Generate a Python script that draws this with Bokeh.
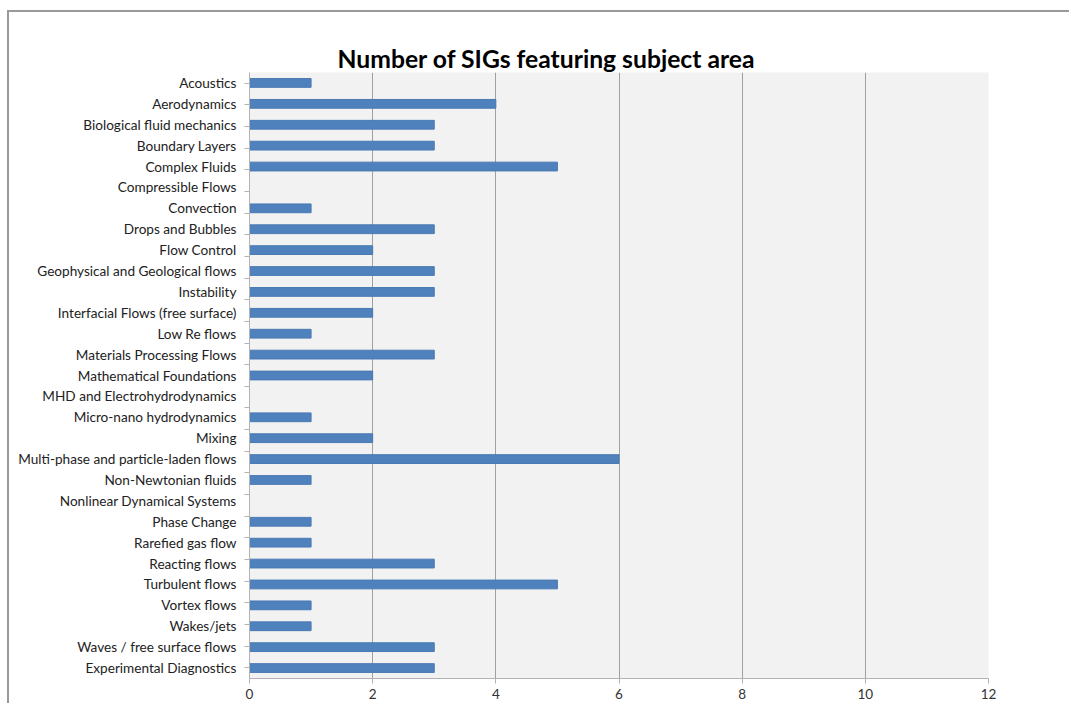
from bokeh.plotting import figure
from bokeh.models import (FactorRange, Range1d, CategoricalAxis, LinearAxis,
                          FixedTicker, Title, CustomLabelingPolicy)
from bokeh.embed import file_html
from bokeh.resources import INLINE

categories = [
    "Acoustics", "Aerodynamics", "Biological fluid mechanics", "Boundary Layers",
    "Complex Fluids", "Compressible Flows", "Convection", "Drops and Bubbles",
    "Flow Control", "Geophysical and Geological flows", "Instability",
    "Interfacial Flows (free surface)", "Low Re flows", "Materials Processing Flows",
    "Mathematical Foundations", "MHD and Electrohydrodynamics",
    "Micro-nano hydrodynamics", "Mixing", "Multi-phase and particle-laden flows",
    "Non-Newtonian fluids", "Nonlinear Dynamical Systems", "Phase Change",
    "Rarefied gas flow", "Reacting flows", "Turbulent flows", "Vortex flows",
    "Wakes/jets", "Waves / free surface flows", "Experimental Diagnostics",
]
counts = [1, 4, 3, 3, 5, 0, 1, 3, 2, 3, 3, 2, 1, 3, 2, 0, 1, 2, 6, 1, 0, 1, 1, 3, 5, 1, 1, 3, 3]
x_ticks = [0, 2, 4, 6, 8, 10, 12]
title_text = "Number of SIGs featuring subject area"

FONT = "Lato"
n = len(categories)

p = figure(
    width=1062, height=693,
    y_range=FactorRange(factors=categories[::-1]),
    x_range=Range1d(0, 12),
    output_backend="svg", toolbar_location=None,
    y_axis_location=None,
    min_border_left=240, min_border_right=83, min_border_top=60, min_border_bottom=27,
)
# boundary factors: n+1 of them, padded so their centres sit on the category edges
boundary_factors = ["b%d" % i for i in range(n + 1)]
p.extra_y_ranges = {"bounds": FactorRange(factors=boundary_factors,
                                          range_padding=-1, range_padding_units="absolute")}

p.hbar(y=categories, right=counts, height=0.42, color="#4f81bd", line_color="#4a7ab3")

p.background_fill_color = "#f2f2f2"
p.border_fill_color = "white"
p.outline_line_color = None

p.xgrid.ticker = FixedTicker(ticks=x_ticks)
p.xgrid.grid_line_color = "#a0a0a0"
p.ygrid.grid_line_color = None

xa = p.xaxis[0]
xa.ticker = FixedTicker(ticks=x_ticks)
xa.axis_line_color = "#b3b3b3"
xa.major_tick_line_color = "#b3b3b3"
xa.major_tick_in = 0
xa.major_tick_out = 5
xa.minor_tick_line_color = None
xa.major_label_text_font = FONT
xa.major_label_text_font_size = "13.5px"
xa.major_label_text_color = "#333333"
xa.major_label_standoff = 5

tick_axis = CategoricalAxis(y_range_name="bounds")
tick_axis.axis_line_color = "#b3b3b3"
tick_axis.major_tick_line_color = "#b3b3b3"
tick_axis.major_tick_in = 0
tick_axis.major_tick_out = 5
tick_axis.minor_tick_line_color = None
tick_axis.major_label_policy = CustomLabelingPolicy(code="return []")
tick_axis.major_label_text_font_size = "0px"
tick_axis.major_label_standoff = 0

label_axis = CategoricalAxis()
label_axis.axis_line_color = None
label_axis.major_tick_line_color = None
label_axis.major_tick_out = 0
label_axis.major_tick_in = 0
label_axis.major_label_standoff = 8
label_axis.major_label_text_font = FONT
label_axis.major_label_text_font_size = "13.6px"
label_axis.major_label_text_color = "#222222"

p.left = [tick_axis, label_axis]

# invisible spacer between the frame and the title
spacer = LinearAxis(ticker=FixedTicker(ticks=[]))
spacer.axis_line_color = None
spacer.major_tick_line_color = None
spacer.minor_tick_line_color = None
spacer.major_tick_in = 0
spacer.major_tick_out = 20
spacer.minor_tick_in = 0
spacer.minor_tick_out = 0
spacer.major_label_standoff = 0
spacer.major_label_text_font_size = "0px"
spacer.major_label_policy = CustomLabelingPolicy(code="return []")

t = Title(text=title_text, align="left", text_font=FONT, text_font_size="24.7px",
          text_font_style="bold", text_color="black", offset=88, standoff=0)

p.above = [t, spacer]

p.styles = {"margin-top": "10px", "margin-left": "7px",
            "border-top": "2px solid #999999", "border-left": "2px solid #999999",
            "border-right": "none", "border-bottom": "none"}

open("out.html", "w").write(file_html(p, INLINE))
